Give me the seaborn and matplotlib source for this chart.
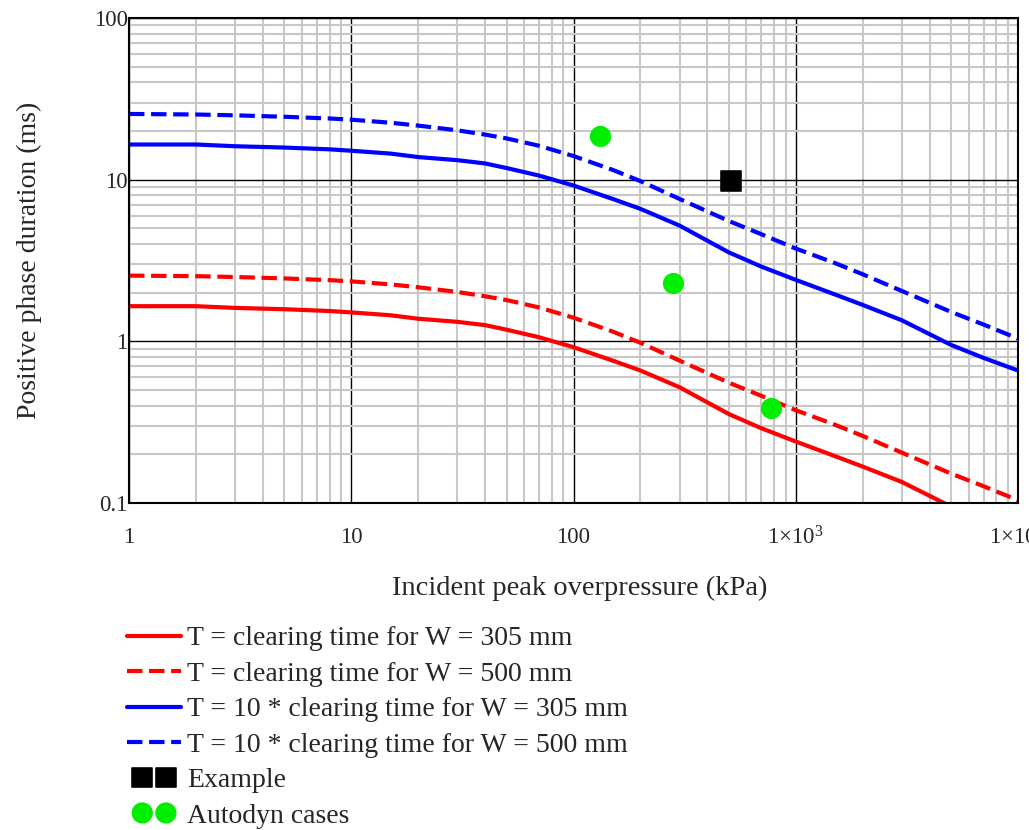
import numpy as np
import pandas as pd
import matplotlib
matplotlib.use("Agg")
import matplotlib.pyplot as plt
from matplotlib.legend_handler import HandlerPathCollection
import seaborn as sns

# ---- data ----
pressure = [1, 2, 3, 5, 8, 10, 15, 20, 30, 40, 50, 70, 100, 150, 200, 300,
            500, 700, 1000, 1500, 2000, 3000, 5000, 7000, 10000]
clear_305 = [1.65, 1.65, 1.61, 1.58, 1.54, 1.51, 1.45, 1.38, 1.32, 1.26, 1.18,
             1.06, 0.92, 0.76, 0.66, 0.52, 0.355, 0.29, 0.24, 0.195, 0.168,
             0.135, 0.095, 0.079, 0.066]
clear_500 = [2.55, 2.53, 2.50, 2.45, 2.39, 2.35, 2.25, 2.16, 2.02, 1.90, 1.80,
             1.62, 1.40, 1.15, 0.98, 0.76, 0.555, 0.46, 0.375, 0.305, 0.26,
             0.205, 0.152, 0.127, 0.104]
ten_clear_305 = [16.5, 16.5, 16.1, 15.8, 15.4, 15.1, 14.5, 13.8, 13.2, 12.6, 11.8,
                 10.6, 9.2, 7.6, 6.6, 5.2, 3.55, 2.9, 2.4, 1.95, 1.68,
                 1.35, 0.95, 0.79, 0.66]
ten_clear_500 = [25.5, 25.3, 25.0, 24.5, 23.9, 23.5, 22.5, 21.6, 20.2, 19.0, 18.0,
                 16.2, 14.0, 11.5, 9.8, 7.6, 5.55, 4.6, 3.75, 3.05, 2.6,
                 2.05, 1.52, 1.27, 1.04]
example_x = [510]
example_y = [9.8]
autodyn_x = [132, 281, 771]
autodyn_y = [18.6, 2.31, 0.386]

labels = ["T = clearing time for W = 305 mm",
          "T = clearing time for W = 500 mm",
          "T = 10 * clearing time for W = 305 mm",
          "T = 10 * clearing time for W = 500 mm",
          "Example",
          "Autodyn cases"]
xticks = [1, 10, 100, 1000, 10000]
xticklabels = ["1", "10", "100", "1×10$^{3}$", "1×10$^{4}$"]
yticks = [0.1, 1, 10, 100]
yticklabels = ["0.1", "1", "10", "100"]

sns.set_style("white")
plt.rcParams['font.family'] = ['Liberation Serif', 'DejaVu Serif']
plt.rcParams['mathtext.fontset'] = 'custom'
plt.rcParams['mathtext.rm'] = 'Liberation Serif'
plt.rcParams['mathtext.it'] = 'Liberation Serif'
plt.rcParams['mathtext.default'] = 'regular'

fig = plt.figure(figsize=(10.29, 8.30), dpi=100)
ax = fig.add_axes([129/1029, 1-503/830, (1018-129)/1029, (503-18)/830])

df = pd.DataFrame({"p": pressure})
series = [(clear_305, "red", "-"), (clear_500, "red", "--"),
          (ten_clear_305, "blue", "-"), (ten_clear_500, "blue", "--")]
for (vals, col, ls), lab in zip(series, labels[:4]):
    d = df.assign(v=vals)
    kw = dict(dashes=(3.5, 2.2)) if ls == "--" else {}
    sns.lineplot(data=d, x="p", y="v", ax=ax, color=col, linewidth=3.0,
                 linestyle=ls, label=lab, **kw)

sns.scatterplot(x=example_x, y=example_y, ax=ax, marker="s", s=210,
                color="black", edgecolor="black", label=labels[4], zorder=5)
sns.scatterplot(x=autodyn_x, y=autodyn_y, ax=ax, marker="o", s=200,
                color="#00ee00", edgecolor="#00ee00", label=labels[5], zorder=5)

ax.set_xscale("log")
ax.set_yscale("log")
ax.set_xlim(1, 10000)
ax.set_ylim(0.1, 100)

ax.grid(True, which="minor", color="#c8c8c8", linewidth=1.5)
ax.grid(True, which="major", color="black", linewidth=1.0)
ax.set_axisbelow(True)
ax.set_xticks(xticks)
ax.set_xticklabels(xticklabels)
ax.set_yticks(yticks)
ax.set_yticklabels(yticklabels)
ax.tick_params(which="both", length=0)
ax.tick_params(axis="x", pad=17, labelsize=16.5)
ax.tick_params(axis="y", pad=1, labelsize=16.5)
for s in ax.spines.values():
    s.set_color("black")
    s.set_linewidth(1.5)

ax.set_xlabel("Incident peak overpressure (kPa)", fontsize=20.5)
ax.set_ylabel("Positive phase duration (ms)", fontsize=20)
ax.xaxis.set_label_coords((580-129)/889, (503-576)/485)
ax.yaxis.set_label_coords((42-129)/889, 0.5)

handles, labs = ax.get_legend_handles_labels()
if ax.get_legend():
    ax.get_legend().remove()
leg = fig.legend(handles, labs, loc="upper left", bbox_to_anchor=(127/1029, 1-626/830),
                 frameon=False, fontsize=20, handlelength=1.95, handletextpad=0.2,
                 labelspacing=0.36, scatterpoints=2, scatteryoffsets=[0.5],
                 borderaxespad=0, borderpad=0,
                 handler_map={type(handles[4]): HandlerPathCollection(marker_pad=0.55)})
for h in leg.legend_handles[4:]:
    h.set_sizes([200, 200])

fig.savefig("out.png", dpi=100)
